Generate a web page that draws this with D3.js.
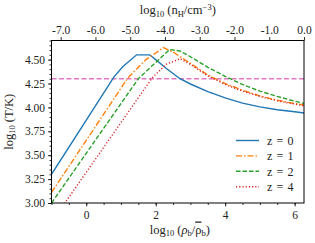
<!DOCTYPE html>
<html>
<head>
<meta charset="utf-8">
<script src="https://cdn.jsdelivr.net/npm/d3@7"></script>
<style>
  body { margin: 0; background: #fff; }
</style>
</head>
<body>
<div id="chart"></div>
<script>
// log10(rho_b / mean rho_b) sample points and log10(T/K) for each redshift
const rho0 = [-1, 0.8, 1.05, 1.45, 1.83, 2.0, 2.3, 2.7, 3.0, 3.5, 4.0, 4.5, 5.0, 5.5, 6.0, 6.3]
const temp0 = [3.30, 4.32, 4.425, 4.55, 4.55, 4.50, 4.41, 4.30, 4.245, 4.165, 4.10, 4.045, 4.005, 3.975, 3.955, 3.94]

const rho1 = [-1, 1.2, 1.72, 2.22, 2.5, 3.0, 3.5, 4.0, 4.5, 5.0, 5.5, 6.0, 6.3]
const temp1 = [3.11, 4.31, 4.50, 4.625, 4.58, 4.46, 4.34, 4.25, 4.18, 4.12, 4.075, 4.04, 4.025]

const rho2 = [-1, 1.5, 2.0, 2.4, 2.7, 3.0, 3.5, 4.0, 4.5, 5.0, 5.5, 6.0, 6.3]
const temp2 = [3.0, 4.30, 4.47, 4.605, 4.59, 4.53, 4.42, 4.325, 4.24, 4.17, 4.115, 4.065, 4.04]

const rho4 = [-1, 1.9, 2.3, 2.7, 3.0, 3.5, 4.0, 4.5, 5.0, 5.5, 6.0, 6.3]
const temp4 = [2.80, 4.31, 4.45, 4.51, 4.45, 4.33, 4.24, 4.17, 4.115, 4.07, 4.035, 4.015]

const seriesNames = ['z = 0', 'z = 1', 'z = 2', 'z = 4']
const seriesColors = ['#1f77b4', '#ff7f0e', '#2ca02c', '#d62728']
const seriesDash = [null, '6,2,1.5,2', '4.5,2', '1.2,2']

const thresholdT = 4.3   // log10(2e4 K)

const yTicks = [3.00, 3.25, 3.50, 3.75, 4.00, 4.25, 4.50]
const xTicks = [0, 2, 4, 6]
const topTicks = [-7, -6, -5, -4, -3, -2, -1, 0]

const series = [
  {rho: rho0, t: temp0},
  {rho: rho1, t: temp1},
  {rho: rho2, t: temp2},
  {rho: rho4, t: temp4}
]

const serif = '"Liberation Serif", "DejaVu Serif", serif'

const width = 315
const height = 243
const margin = {top: 40.5, right: 11, bottom: 40, left: 51.5}
const w = width - margin.left - margin.right
const h = height - margin.top - margin.bottom

const x = d3.scaleLinear().domain([-1, 6.27]).range([0, w])
const xTop = d3.scaleLinear().domain([-7.265, 0]).range([0, w])
const y = d3.scaleLinear().domain([3.0, 4.7]).range([h, 0])

const svg = d3.select('#chart').append('svg')
    .attr('width', width)
    .attr('height', height)
    .style('font-family', serif)

svg.append('defs').append('clipPath').attr('id', 'clip')
  .append('rect').attr('width', w).attr('height', h)

const g = svg.append('g')
    .attr('transform', 'translate(' + margin.left + ',' + margin.top + ')')

// axes
const fmt2 = d3.format('.2f')
const fmt1 = d3.format('.1f')

const yAxis = d3.axisLeft(y).tickValues(yTicks).tickFormat(fmt2).tickSize(3.5).tickPadding(3)
const yMinor = d3.axisLeft(y).tickValues(d3.range(60, 95).map(d => d / 20)).tickFormat('').tickSize(2)
const xAxis = d3.axisBottom(x).tickValues(xTicks).tickFormat(d3.format('d')).tickSize(3.5).tickPadding(4)
const xMinor = d3.axisBottom(x).tickValues(d3.range(-2, 13).map(d => d / 2)).tickFormat('').tickSize(2)
const topAxis = d3.axisTop(xTop).tickValues(topTicks).tickFormat(d => fmt1(d).replace('−', '-')).tickSize(3.5).tickPadding(3)

function styleAxis (sel) {
  sel.attr('font-family', null).attr('font-size', 11.5)
  sel.select('.domain').remove()
  sel.selectAll('line').attr('stroke', '#000').attr('stroke-width', 0.8)
  sel.selectAll('text').style('font-family', serif).attr('fill', '#222')
}

g.append('g').call(yMinor).call(styleAxis)
g.append('g').call(yAxis).call(styleAxis)
g.append('g').attr('transform', 'translate(0,' + h + ')').call(xMinor).call(styleAxis)
g.append('g').attr('transform', 'translate(0,' + h + ')').call(xAxis).call(styleAxis)
g.append('g').call(topAxis).call(styleAxis)

// data
const plot = g.append('g').attr('clip-path', 'url(#clip)')

plot.append('line')
    .attr('x1', 0).attr('x2', w)
    .attr('y1', y(thresholdT)).attr('y2', y(thresholdT))
    .attr('stroke', '#e377c2')
    .attr('stroke-width', 1.3)
    .attr('stroke-dasharray', '5,2.5')

const line = d3.line().x(d => x(d[0])).y(d => y(d[1]))

series.forEach(function (s, i) {
  plot.append('path')
      .datum(s.rho.map((r, j) => [r, s.t[j]]))
      .attr('d', line)
      .attr('fill', 'none')
      .attr('stroke', seriesColors[i])
      .attr('stroke-width', 1.4)
      .attr('stroke-dasharray', seriesDash[i])
})

// frame
g.append('rect')
    .attr('width', w).attr('height', h)
    .attr('fill', 'none').attr('stroke', '#000').attr('stroke-width', 1)

// legend
const legend = g.append('g').attr('transform', 'translate(' + (236 - margin.left) + ',' + (140.5 - margin.top) + ')')
seriesNames.forEach(function (name, i) {
  const row = legend.append('g').attr('transform', 'translate(0,' + (i * 15.4) + ')')
  row.append('line')
      .attr('x1', 0).attr('x2', 23)
      .attr('stroke', seriesColors[i])
      .attr('stroke-width', 1.4)
      .attr('stroke-dasharray', seriesDash[i])
  row.append('text')
      .attr('x', 31).attr('dy', '0.35em')
      .attr('fill', '#222')
      .style('font-size', '12px')
      .style('word-spacing', '1.2px')
      .text(name)
})

// axis labels: sub/superscripts as shifted tspans, the following tspan shifts back
function logLabel (sel, parts) {
  let shift = 0
  const all = [['log', 0], ['10', 2.8], [' (', 0]].concat(parts).concat([[')', 0]])
  all.forEach(function (p) {
    const t = sel.append('tspan').attr('dy', p[1] - shift).text(p[0])
    if (p[1] !== 0) t.style('font-size', '8.5px')
    if (p[2]) t.style(p[2][0], p[2][1])
    shift = p[1]
  })
}

const yLabel = svg.append('text')
    .attr('transform', 'translate(12.5,' + (margin.top + h / 2) + ')rotate(-90)')
    .attr('text-anchor', 'middle')
    .attr('fill', '#222')
    .style('font-size', '12.5px')
logLabel(yLabel, [['T/K', 0]])

const xLabel = svg.append('text')
    .attr('x', margin.left + w / 2 + 2).attr('y', 233.5)
    .attr('text-anchor', 'middle')
    .attr('fill', '#222')
    .style('font-size', '12.5px')
logLabel(xLabel, [['ρ', 0, ['font-style', 'italic']], ['b', 2.8], ['/', 0],
  ['ρ', 0, ['text-decoration', 'overline']], ['b', 2.8]])

const topLabel = svg.append('text')
    .attr('x', margin.left + w / 2).attr('y', 14)
    .attr('text-anchor', 'middle')
    .attr('fill', '#222')
    .style('font-size', '12.5px')
logLabel(topLabel, [['n', 0], ['H', 2.8], ['/cm', 0], ['−3', -4.5]])
</script>
</body>
</html>
